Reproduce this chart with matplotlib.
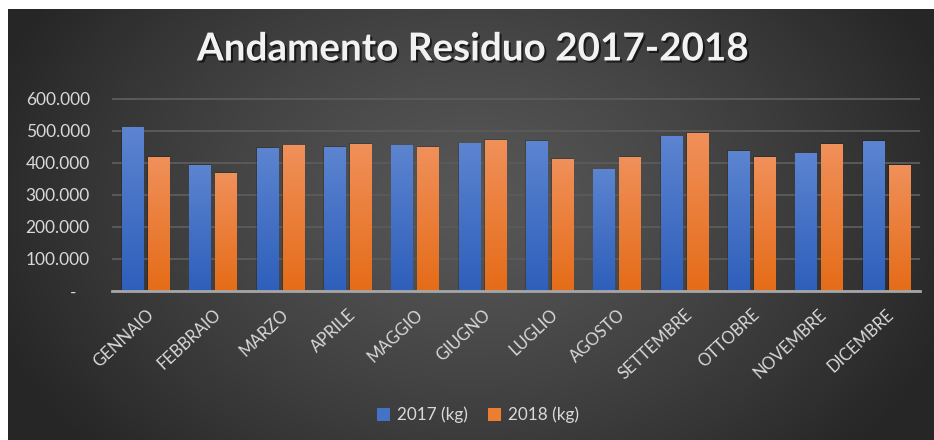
import numpy as np
import matplotlib
matplotlib.use("Agg")
import matplotlib.pyplot as plt
import matplotlib.patheffects as pe
from matplotlib.ticker import FuncFormatter, MultipleLocator
from matplotlib.patches import Patch

months = ["GENNAIO", "FEBBRAIO", "MARZO", "APRILE", "MAGGIO", "GIUGNO",
          "LUGLIO", "AGOSTO", "SETTEMBRE", "OTTOBRE", "NOVEMBRE", "DICEMBRE"]
v2017 = [511000, 393000, 446000, 449000, 455000, 461000,
         468000, 380000, 483000, 437000, 430000, 468000]
v2018 = [418000, 368000, 455000, 459000, 449000, 471000,
         412000, 418000, 494000, 418000, 459000, 393000]
series_labels = ["2017 (kg)", "2018 (kg)"]
title = "Andamento Residuo 2017-2018"

W, H = 934, 440
fig = plt.figure(figsize=(W / 100, H / 100), dpi=100, facecolor="white")
FAM = ["Lato", "DejaVu Sans"]

# background panel with radial gradient
bx0, by_top = 8, 9
bg = fig.add_axes([bx0 / W, 0, 1 - bx0 / W, (H - by_top) / H])
bg.set_axis_off()
ny, nx = 200, 400
yy, xx = np.mgrid[0:ny, 0:nx]
cx, cy = nx * 0.50, ny * 0.45
r = np.sqrt(((xx - cx) / (nx * 0.55)) ** 2 + ((yy - cy) / (ny * 0.85)) ** 2)
r = np.clip(r, 0, 1)
c_center, c_edge = 0.34, 0.15
g = c_center + (c_edge - c_center) * r ** 1.3
img = np.dstack([g, g, g])
bg.imshow(img, aspect="auto", extent=[0, 1, 0, 1], interpolation="bilinear")
bg.set_xlim(0, 1)
bg.set_ylim(0, 1)

# main axes
left, right = 112, 920
y0_px, ytop_px = 291, 98
ax = fig.add_axes([left / W, (H - y0_px) / H, (right - left) / W, (y0_px - ytop_px) / H])
ax.patch.set_alpha(0)

x = np.arange(len(months))
bw = 0.317
off = 0.193
bars1 = ax.bar(x - off, v2017, bw, color="#4472C4", label=series_labels[0], zorder=3)
bars2 = ax.bar(x + off, v2018, bw, color="#ED7D31", label=series_labels[1], zorder=3)

def grad_fill(bars, top_rgb, bot_rgb):
    grad = np.linspace(0, 1, 100)[:, None]
    top = np.array(top_rgb) / 255.0
    bot = np.array(bot_rgb) / 255.0
    arr = top[None, None, :] * (1 - grad[:, :, None]) + bot[None, None, :] * grad[:, :, None]
    for b in bars:
        bx, byy = b.get_x(), b.get_y()
        w, h = b.get_width(), b.get_height()
        b.set_facecolor("none")
        b.set_edgecolor("none")
        sh = plt.Rectangle((bx - 0.012, byy), w + 0.024, h + 2500,
                           facecolor="black", alpha=0.18, edgecolor="none", zorder=2)
        ax.add_patch(sh)
        im = ax.imshow(arr, extent=[bx, bx + w, byy, byy + h], aspect="auto",
                       zorder=3, interpolation="bilinear")
        im.set_clip_path(b)

grad_fill(bars1, (92, 132, 208), (46, 95, 187))
grad_fill(bars2, (240, 144, 90), (229, 108, 24))

ax.set_xlim(-0.5, len(months) - 0.5)
ax.set_ylim(0, 603000)
ax.yaxis.set_major_locator(MultipleLocator(100000))

def fmt(v, pos):
    if abs(v) < 1:
        return "-   "
    return f"{int(round(v)):,}".replace(",", ".")

ax.yaxis.set_major_formatter(FuncFormatter(fmt))
ax.grid(axis="y", color="#5A5A5A", linewidth=1.4, zorder=0)
ax.set_axisbelow(True)
for s in ["top", "right", "left"]:
    ax.spines[s].set_visible(False)
ax.spines["bottom"].set_color("#A6A6A6")
ax.spines["bottom"].set_linewidth(2.0)
ax.spines["bottom"].set_zorder(5)
ax.tick_params(axis="both", length=0, colors="#D9D9D9")
ax.tick_params(axis="y", pad=16, labelsize=12.5)
ax.set_xticks(x)
ax.set_xticklabels(months, rotation=43, ha="right", rotation_mode="anchor",
                   fontsize=12, color="#D9D9D9")
ax.tick_params(axis="x", pad=11)
for lbl in ax.get_yticklabels():
    lbl.set_family(FAM)
for lbl in ax.get_xticklabels():
    lbl.set_family(FAM)

fig.text(473 / W, 1 - 49 / H, title, ha="center", va="center", fontsize=27.8,
         fontweight="bold", color="#F2F2F2", family=FAM,
         path_effects=[pe.withSimplePatchShadow(offset=(1.5, -1.5), shadow_rgbFace="black", alpha=0.6)])

handles = [Patch(facecolor="#4472C4"), Patch(facecolor="#ED7D31")]
leg = fig.legend(handles, series_labels, loc="center", bbox_to_anchor=(478 / W, 1 - 415 / H),
                 ncol=2, frameon=False, handlelength=0.75, handleheight=0.75,
                 handletextpad=0.4, columnspacing=1.2, labelcolor="#D9D9D9",
                 prop={"family": FAM, "size": 12.3})

fig.savefig("out.png", dpi=100, facecolor="white")
